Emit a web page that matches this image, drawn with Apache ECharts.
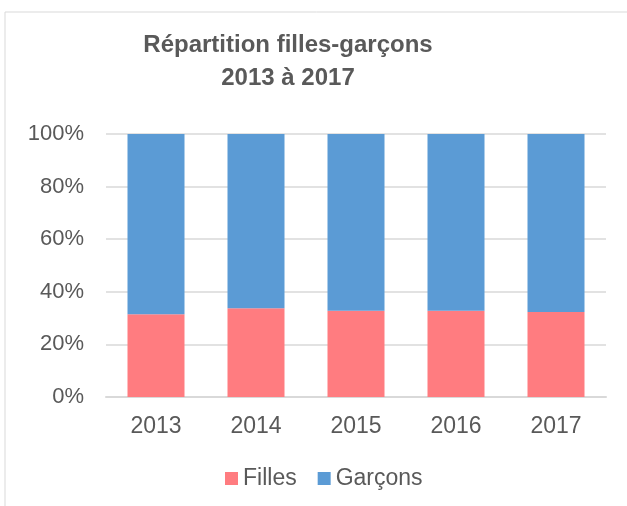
<!DOCTYPE html>
<html>
<head>
<meta charset="utf-8">
<script src="https://cdn.jsdelivr.net/npm/echarts@6/dist/echarts.min.js"></script>
<style>
  html, body { margin: 0; padding: 0; background: #fff; }
  #chart { width: 627px; height: 506px; }
</style>
</head>
<body>
<div id="chart"></div>
<script>
// données
const years = ['2013', '2014', '2015', '2016', '2017'];
const filles = [31.5, 33.7, 32.8, 32.8, 32.3];
const garcons = [68.5, 66.3, 67.2, 67.2, 67.7];
const yTicks = [0, 20, 40, 60, 80, 100];

const chart = echarts.init(document.getElementById('chart'));
const font = 'Liberation Sans, Arial, sans-serif';

const option = {
  animation: false,
  graphic: [{
    type: 'rect',
    shape: { x: 5, y: 12, width: 660, height: 560 },
    style: { fill: 'none', stroke: '#d9d9d9', lineWidth: 1 }
  }],
  title: {
    text: 'Répartition filles-garçons\n2013 à 2017',
    left: 283,
    textAlign: 'center',
    top: 24,
    textStyle: {
      fontFamily: font,
      fontSize: 24,
      fontWeight: 'bold',
      color: '#595959',
      lineHeight: 33
    }
  },
  legend: {
    bottom: 11,
    left: 220,
    itemWidth: 13,
    itemHeight: 13,
    itemGap: 21,
    icon: 'rect',
    textStyle: { fontFamily: font, fontSize: 23, color: '#595959' },
    data: ['Filles', 'Garçons']
  },
  grid: { left: 106, right: 21, top: 134, bottom: 109 },
  xAxis: {
    type: 'category',
    data: years,
    axisLine: { lineStyle: { color: '#d9d9d9', width: 2 } },
    axisTick: { show: false },
    axisLabel: { fontFamily: font, fontSize: 23, color: '#595959', margin: 18 }
  },
  yAxis: {
    type: 'value',
    min: 0,
    max: 100,
    interval: 20,
    axisLine: { show: false },
    axisTick: { show: false },
    splitLine: { lineStyle: { color: '#d9d9d9', width: 1.5 } },
    axisLabel: {
      fontFamily: font,
      fontSize: 22,
      color: '#595959',
      margin: 22,
      formatter: (v) => yTicks.includes(v) ? v + '%' : ''
    }
  },
  series: [{
    name: 'Filles',
    type: 'bar',
    stack: 'total',
    barWidth: '57%',
    data: filles,
    itemStyle: { color: '#ff7c80' }
  }, {
    name: 'Garçons',
    type: 'bar',
    stack: 'total',
    barWidth: '57%',
    data: garcons,
    itemStyle: { color: '#5b9bd5' }
  }]
};

chart.setOption(option);
</script>
</body>
</html>
